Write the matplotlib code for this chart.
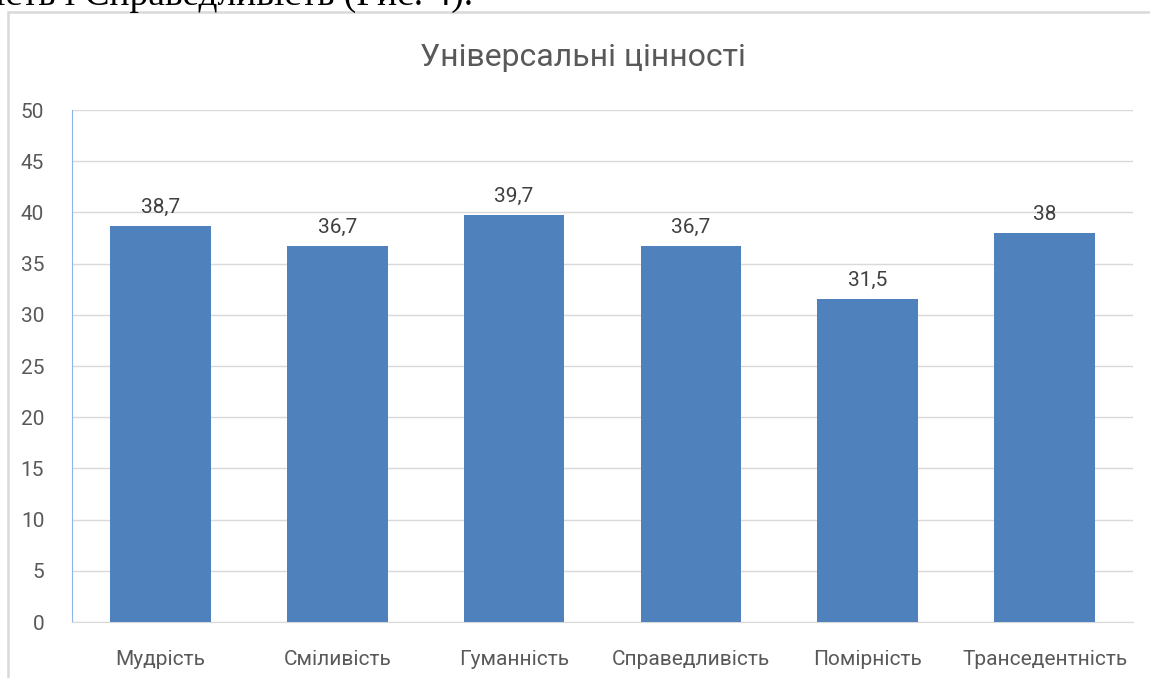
import matplotlib
matplotlib.use('Agg')
import matplotlib.pyplot as plt
from matplotlib.patches import Rectangle

categories = ['Мудрість', 'Сміливість', 'Гуманність', 'Справедливість', 'Помірність', 'Транседентність']
values = [38.7, 36.7, 39.7, 36.7, 31.5, 38.0]
value_labels = ['38,7', '36,7', '39,7', '36,7', '31,5', '38']
yticks = [0, 5, 10, 15, 20, 25, 30, 35, 40, 45, 50]

plt.rcParams['font.family'] = ['Roboto', 'DejaVu Sans']

fig = plt.figure(figsize=(11.5, 6.78), dpi=100)

# clipped text of the page above the chart
fig.text(-0.004, 1 - 5 / 678, 'ість і Справедливість (Рис. 4).', fontsize=27,
         family=['Liberation Serif', 'DejaVu Serif'], va='baseline', ha='left', color='black')

# chart frame
fig.patches.append(Rectangle((8 / 1150, -0.01), 1.1, 1 - 12 / 678 + 0.01, transform=fig.transFigure,
                             fill=False, edgecolor='#d9d9d9', lw=1.8))

ax = fig.add_axes([72 / 1150, 56 / 678, (1133 - 72) / 1150, (622 - 110) / 678])
x = range(len(categories))
ax.bar(x, values, width=0.57, color='#4f81bd', zorder=3)
for i, v in enumerate(values):
    ax.text(i, v + 0.9, value_labels[i], ha='center', va='bottom', fontsize=15, color='#404040')

ax.set_ylim(0, 50)
ax.set_xlim(-0.5, len(categories) - 0.5)
ax.set_yticks(yticks)
ax.set_xticks(list(x))
ax.set_xticklabels(categories, fontsize=15, color='#595959')
ax.tick_params(axis='y', labelsize=15, labelcolor='#595959', length=0, pad=20)
ax.tick_params(axis='x', length=0, pad=20)
ax.grid(axis='y', color='#d9d9d9', lw=1, zorder=0)
for s in ['top', 'right']:
    ax.spines[s].set_visible(False)
ax.spines['left'].set_color('#8eb4e3')
ax.spines['bottom'].set_color('#d9d9d9')

fig.text(583 / 1150, 1 - 58 / 678, 'Універсальні цінності', ha='center', va='center',
         fontsize=23, color='#595959')

fig.savefig('out.png', dpi=100)
